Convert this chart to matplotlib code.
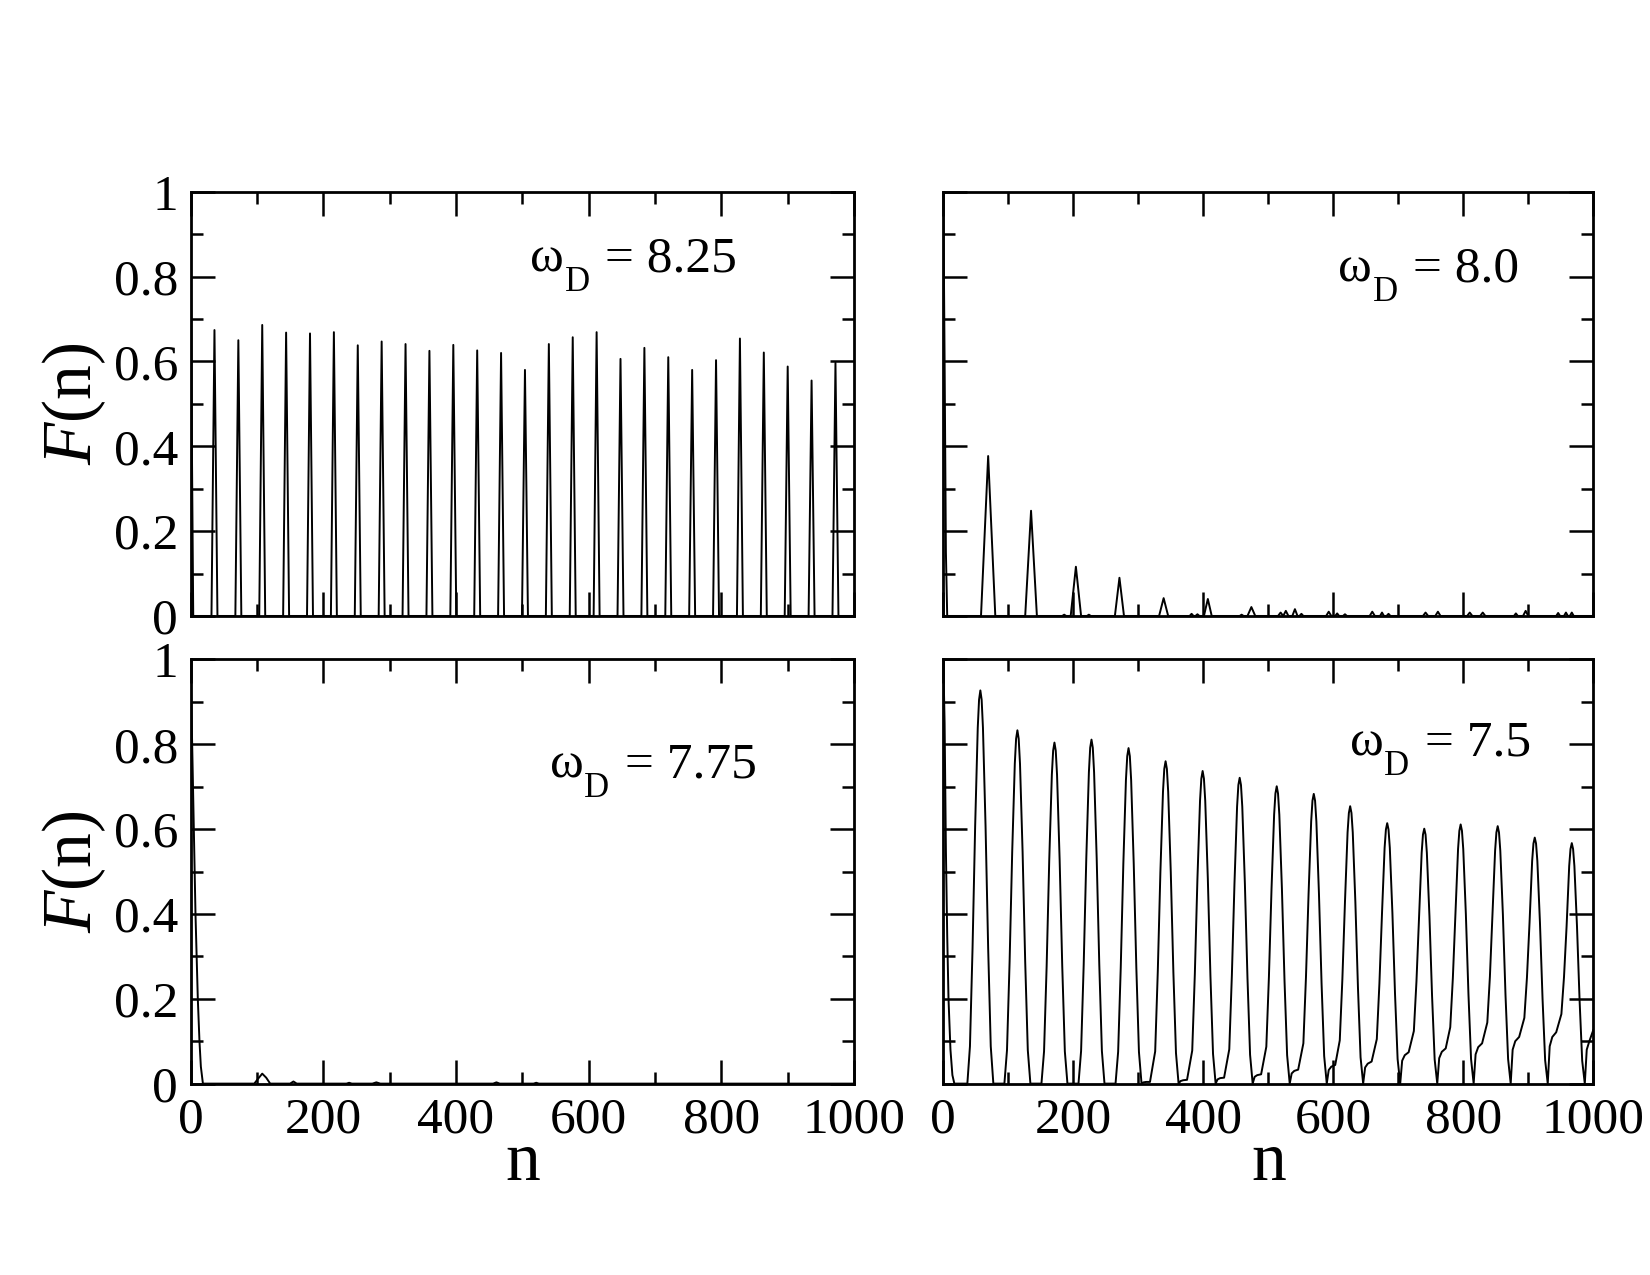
"""
Fidelity F(n) for four driving frequencies (2x2 panels, grace-style axes).
"""

import numpy as np
import matplotlib
matplotlib.use("Agg")
import matplotlib.pyplot as plt
from matplotlib.ticker import MultipleLocator, FuncFormatter

plt.rcParams["font.family"] = ["Liberation Serif", "DejaVu Serif"]
plt.rcParams["mathtext.fontset"] = "custom"
plt.rcParams["mathtext.rm"] = "Liberation Serif"
plt.rcParams["mathtext.it"] = "Liberation Serif:italic"

# ── ω_D = 8.25 : regular train of narrow spikes ─────────────
n825_start = [0, 2, 4]
F825_start = [1.0, 0.4, 0.0]
n825_peaks = [36, 72, 108, 144, 180, 216, 252, 288, 324, 360, 396, 432, 468, 504,
              540, 576, 612, 648, 684, 720, 756, 792, 828, 864, 900, 936, 972]
F825_peaks = [0.674, 0.650, 0.686, 0.668, 0.666, 0.669, 0.638, 0.647, 0.641, 0.625,
              0.639, 0.626, 0.620, 0.580, 0.641, 0.657, 0.669, 0.606, 0.632, 0.610,
              0.580, 0.603, 0.654, 0.621, 0.588, 0.555, 0.597]
w825_peaks = [4.5] * len(n825_peaks)

# ── ω_D = 8.0 : decaying revivals ───────────────────────────
n80_start = [0, 2, 4, 6]
F80_start = [1.0, 0.6, 0.15, 0.0]
n80_peaks = [69, 135, 186, 204, 224, 271, 339, 382, 391, 407, 459, 474, 519, 527,
             541, 551, 593, 606, 618, 660, 675, 685, 742, 761, 810, 830, 881, 896,
             946, 958, 967]
F80_peaks = [0.377, 0.248, 0.003, 0.116, 0.003, 0.090, 0.042, 0.005, 0.004, 0.040,
             0.003, 0.021, 0.008, 0.012, 0.016, 0.005, 0.010, 0.006, 0.004, 0.010,
             0.008, 0.005, 0.008, 0.010, 0.008, 0.008, 0.006, 0.012, 0.007, 0.008,
             0.008]
w80_peaks = [11, 9, 3, 8, 3, 7, 7, 3, 3, 6, 3, 6, 4, 4, 4, 3, 4, 3, 3, 4, 3, 3,
             4, 4, 4, 4, 3, 4, 3, 3, 3]

# ── ω_D = 7.75 : fast decay, almost no revival ──────────────
curve_775 = [(0, 1.0), (1, 0.9), (2.4, 0.8), (4.9, 0.6), (7.4, 0.4), (10.9, 0.2),
             (13.4, 0.1), (15.5, 0.04), (18.6, 0.0), (96, 0.0), (102, 0.012),
             (108, 0.0235), (114, 0.014), (120, 0.0), (150, 0.0), (155, 0.005),
             (160, 0.0), (235, 0.0), (239, 0.002), (243, 0.0), (274, 0.0),
             (280, 0.003), (286, 0.0), (456, 0.0), (461, 0.003), (466, 0.0),
             (517, 0.0), (521, 0.002), (525, 0.0), (1000, 0.0)]

# ── ω_D = 7.5 : broad revivals with growing shoulders ───────
curve_75 = [
    (0, 1.0), (2, 0.85), (4, 0.55), (6, 0.35), (8, 0.2), (11, 0.08), (14, 0.02),
    (17, 0.0), (37, 0.0),
    (41, 0.088), (45, 0.320), (49, 0.607), (53, 0.839), (55, 0.905), (57, 0.927),
    (59, 0.905), (61, 0.839), (65, 0.607), (69, 0.320), (73, 0.088), (77, 0.0),
    (94, 0.0),
    (98, 0.079), (102, 0.287), (106, 0.546), (110, 0.754), (112, 0.813), (114, 0.833),
    (116, 0.813), (118, 0.754), (122, 0.546), (126, 0.287), (130, 0.079), (134, 0.0),
    (151, 0.0),
    (155, 0.076), (159, 0.277), (163, 0.527), (167, 0.728), (169, 0.785), (171, 0.804),
    (173, 0.785), (175, 0.728), (179, 0.527), (183, 0.277), (187, 0.076), (191, 0.0),
    (208, 0.0),
    (212, 0.077), (216, 0.280), (220, 0.531), (224, 0.734), (226, 0.792), (228, 0.811),
    (230, 0.792), (232, 0.734), (236, 0.531), (240, 0.280), (244, 0.077), (248, 0.0),
    (265, 0.0),
    (269, 0.075), (273, 0.273), (277, 0.518), (281, 0.716), (283, 0.772), (285, 0.791),
    (287, 0.772), (289, 0.716), (293, 0.518), (297, 0.273), (301, 0.075), (305, 0.0),
    (308, 0.003), (312, 0.004), (318, 0.004),
    (326, 0.076), (330, 0.264), (334, 0.498), (338, 0.688), (340, 0.742), (342, 0.760),
    (344, 0.742), (346, 0.688), (350, 0.498), (354, 0.262), (358, 0.072), (362, 0.0),
    (365, 0.006), (369, 0.008), (375, 0.009),
    (383, 0.078), (387, 0.258), (391, 0.483), (395, 0.667), (397, 0.719), (399, 0.737),
    (401, 0.719), (403, 0.667), (407, 0.483), (411, 0.254), (415, 0.070), (419, 0.0),
    (422, 0.010), (426, 0.013), (432, 0.014),
    (440, 0.081), (444, 0.256), (448, 0.472), (452, 0.653), (454, 0.704), (456, 0.721),
    (458, 0.704), (460, 0.653), (464, 0.472), (468, 0.249), (472, 0.068), (476, 0.0),
    (479, 0.016), (483, 0.020), (489, 0.022),
    (497, 0.087), (501, 0.252), (505, 0.459), (509, 0.634), (511, 0.684), (513, 0.701),
    (515, 0.684), (517, 0.634), (521, 0.459), (525, 0.242), (529, 0.067), (533, 0.0),
    (536, 0.024), (540, 0.030), (546, 0.033),
    (554, 0.095), (558, 0.251), (562, 0.447), (566, 0.618), (568, 0.667), (570, 0.683),
    (572, 0.667), (574, 0.618), (578, 0.447), (582, 0.236), (586, 0.065), (590, 0.0),
    (593, 0.032), (597, 0.040), (603, 0.044),
    (610, 0.102), (614, 0.246), (618, 0.428), (622, 0.592), (624, 0.638), (626, 0.654),
    (628, 0.638), (630, 0.592), (634, 0.428), (638, 0.226), (642, 0.062), (646, 0.0),
    (649, 0.038), (653, 0.047), (659, 0.052),
    (667, 0.105), (671, 0.236), (675, 0.402), (679, 0.556), (681, 0.599), (683, 0.614),
    (685, 0.599), (687, 0.556), (691, 0.402), (695, 0.212), (699, 0.058), (703, 0.0),
    (706, 0.054), (710, 0.067), (716, 0.074),
    (724, 0.124), (728, 0.241), (732, 0.394), (736, 0.544), (738, 0.587), (740, 0.601),
    (742, 0.587), (744, 0.544), (748, 0.394), (752, 0.207), (756, 0.057), (760, 0.0),
    (763, 0.060), (767, 0.075), (773, 0.083),
    (780, 0.133), (784, 0.249), (788, 0.400), (792, 0.553), (794, 0.596), (796, 0.611),
    (798, 0.596), (800, 0.553), (804, 0.400), (808, 0.211), (812, 0.058), (816, 0.0),
    (819, 0.069), (823, 0.086), (829, 0.095),
    (837, 0.144), (841, 0.252), (845, 0.398), (849, 0.549), (851, 0.592), (853, 0.607),
    (855, 0.592), (857, 0.549), (861, 0.398), (865, 0.209), (869, 0.058), (873, 0.0),
    (876, 0.080), (880, 0.100), (886, 0.110),
    (894, 0.155), (898, 0.250), (902, 0.380), (906, 0.525), (908, 0.566), (910, 0.580),
    (912, 0.566), (914, 0.525), (918, 0.380), (922, 0.200), (926, 0.055), (930, 0.0),
    (933, 0.088), (937, 0.110), (943, 0.121),
    (951, 0.164), (955, 0.251), (959, 0.371), (963, 0.513), (965, 0.553), (967, 0.567),
    (969, 0.553), (971, 0.513), (975, 0.371), (979, 0.196), (983, 0.054), (987, 0.0),
    (990, 0.080), (994, 0.100), (1000, 0.126),
]

panel_labels = ["8.25", "8.0", "7.75", "7.5"]
label_pos = [(512, 0.811), (608, 0.788), (541, 0.722), (625, 0.773)]


def spike_train(n0, F0, centres, heights, halfw):
    """ peak list -> polyline (foot, top, foot) """
    n, F = list(n0), list(F0)
    for c, h, w in zip(centres, heights, halfw):
        n += [c - w, c, c + w]
        F += [0.0, h, 0.0]
    n.append(1000)
    F.append(0.0)
    return n, F


def style_axes(ax, show_x, show_y):
    ax.set_xlim(0, 1000)
    ax.set_ylim(0, 1)
    ax.xaxis.set_major_locator(MultipleLocator(200))
    ax.xaxis.set_minor_locator(MultipleLocator(100))
    ax.yaxis.set_major_locator(MultipleLocator(0.2))
    ax.yaxis.set_minor_locator(MultipleLocator(0.1))
    ax.yaxis.set_major_formatter(FuncFormatter(lambda v, p: f"{v:g}"))
    ax.tick_params(which="both", direction="in", top=True, right=True,
                   width=1.8, labelsize=37, color="black")
    ax.tick_params(which="major", length=17)
    ax.tick_params(which="minor", length=8.7)
    ax.tick_params(axis="x", pad=9.5, labelbottom=show_x)
    ax.tick_params(axis="y", pad=9, labelleft=show_y)
    for s in ax.spines.values():
        s.set_linewidth(2)
    if show_x:
        ax.set_xlabel("n", fontsize=50)
        ax.xaxis.set_label_coords(0.5, -0.113)
    if show_y:
        ax.set_ylabel(r"$F$(n)", fontsize=50)
        ax.yaxis.set_label_coords(-0.124, 0.5)


def omega_label(ax, x, y, value):
    # grace-style ω_D: big symbol, small dropped subscript
    ax.text(x, y, "ω", fontsize=37, ha="left", va="baseline")
    ax.annotate("D", xy=(x, y), xytext=(25, -14), textcoords="offset points",
                fontsize=25, ha="left", va="baseline")
    ax.annotate("= " + value, xy=(x, y), xytext=(54, 0), textcoords="offset points",
                fontsize=37, ha="left", va="baseline")


fig = plt.figure(figsize=(16.5, 12.75), dpi=100)
left_x, left_w = 0.1155, 0.4021
right_x, right_w = 0.5717, 0.3939
top_y, bot_y, h = 0.5169, 0.1501, 0.3327

ax_tl = fig.add_axes([left_x, top_y, left_w, h])
ax_tr = fig.add_axes([right_x, top_y, right_w, h])
ax_bl = fig.add_axes([left_x, bot_y, left_w, h])
ax_br = fig.add_axes([right_x, bot_y, right_w, h])

n, F = spike_train(n825_start, F825_start, n825_peaks, F825_peaks, w825_peaks)
ax_tl.plot(n, F, color="black", lw=1.4)

n, F = spike_train(n80_start, F80_start, n80_peaks, F80_peaks, w80_peaks)
ax_tr.plot(n, F, color="black", lw=1.4)

n, F = zip(*curve_775)
ax_bl.plot(n, F, color="black", lw=1.4)

n, F = zip(*curve_75)
ax_br.plot(n, F, color="black", lw=1.4)

axes = [ax_tl, ax_tr, ax_bl, ax_br]
flags = [(False, True), (False, False), (True, True), (True, False)]
for ax, (sx, sy), lab, (px, py) in zip(axes, flags, panel_labels, label_pos):
    style_axes(ax, sx, sy)
    omega_label(ax, px, py, lab)

fig.savefig("out.png", dpi=100)
plt.close(fig)
